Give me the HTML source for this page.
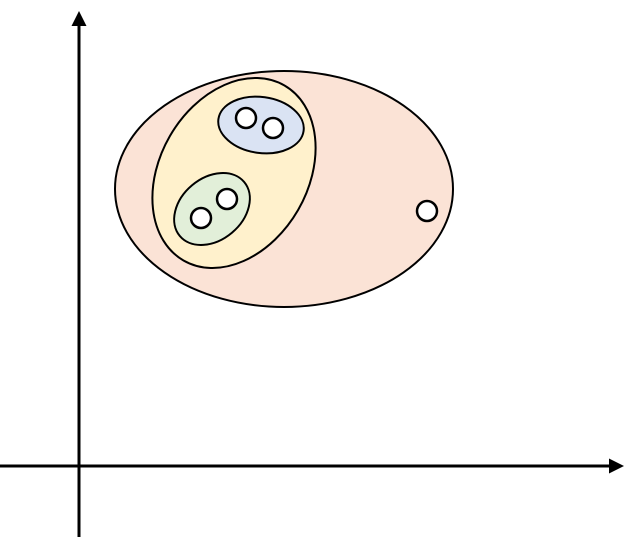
<!DOCTYPE html>
<html><head><meta charset="utf-8"><style>html,body{margin:0;padding:0;background:#fff}svg{display:block}</style></head>
<body>
<svg width="633" height="537" viewBox="0 0 633 537">
  <defs>
    <marker id="arr" viewBox="0 0 10 10" refX="8" refY="5" markerWidth="5" markerHeight="5" orient="auto">
      <path d="M0,0 L10,5 L0,10 z" fill="#000"/>
    </marker>
  </defs>
  <line x1="79" y1="537" x2="79" y2="14" stroke="#000" stroke-width="3" marker-end="url(#arr)"/>
  <line x1="0" y1="466" x2="621" y2="466" stroke="#000" stroke-width="3" marker-end="url(#arr)"/>
  <ellipse cx="284" cy="189" rx="169" ry="118" fill="#fbe3d6" stroke="#000" stroke-width="2"/>
  <ellipse cx="234" cy="173" rx="101" ry="74" transform="rotate(-60 234 173)" fill="#fff1cc" stroke="#000" stroke-width="2"/>
  <ellipse cx="261" cy="125" rx="43" ry="28" transform="rotate(8 261 125)" fill="#dae3f3" stroke="#000" stroke-width="2"/>
  <ellipse cx="212" cy="209" rx="42" ry="31" transform="rotate(-40 212 209)" fill="#e2efd9" stroke="#000" stroke-width="2"/>
  <g stroke="#000" stroke-width="2.5" fill="#fff">
    <circle cx="246" cy="118" r="10"/>
    <circle cx="273" cy="128" r="10"/>
    <circle cx="227" cy="199" r="10"/>
    <circle cx="201" cy="218" r="10"/>
    <circle cx="427" cy="211" r="10"/>
  </g>
</svg>
</body></html>
